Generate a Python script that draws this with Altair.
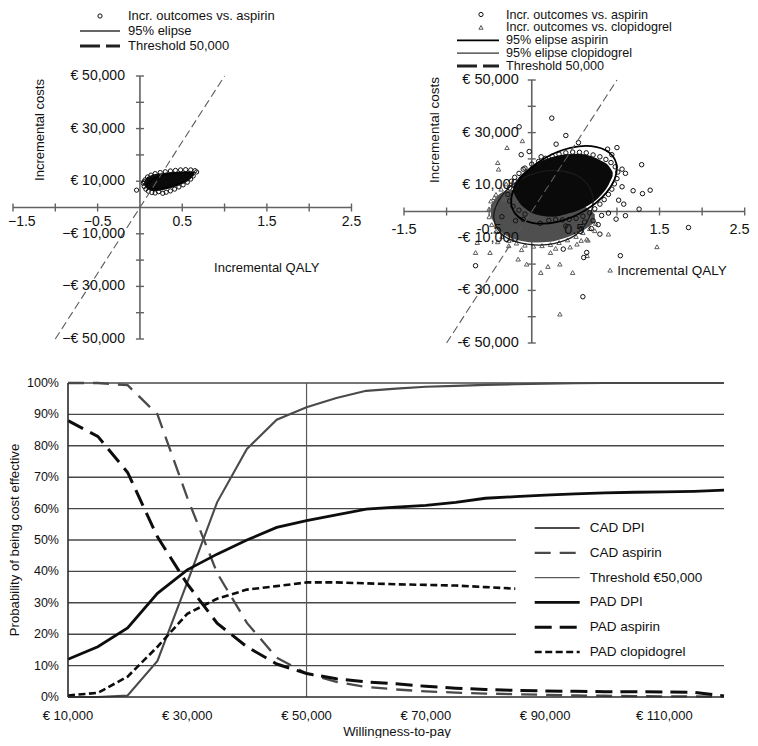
import altair as alt
import pandas as pd

FONT = "Liberation Sans"

# ============================ DATA ============================
# --- bottom panel: probability of being cost effective (%) ---
wtp = [10000, 15000, 20000, 25000, 30000, 35000, 40000, 45000, 50000, 55000, 60000,
       65000, 70000, 75000, 80000, 85000, 90000, 95000, 100000, 105000, 110000,
       115000, 120000]
cad_dpi = [0, 0, 0.5, 11.5, 36.5, 62, 79, 88.3, 92.3, 95.2, 97.5,
           98.2, 98.8, 99.1, 99.4, 99.6, 99.8, 99.9, 100, 100, 100, 100, 100]
cad_aspirin = [100, 100, 99.3, 90, 63.5, 39.5, 23.6, 12.5, 7.5, 4.8, 3.2,
               2.4, 1.8, 1.4, 1.1, 0.9, 0.7, 0.5, 0.4, 0.3, 0.2, 0.2, 0.1]
pad_dpi = [12, 16, 22, 33, 40.5, 45.5, 50, 54, 56.2, 58, 59.8,
           60.5, 61, 62, 63.3, 63.8, 64.3, 64.7, 65, 65.2, 65.3, 65.5, 65.9]
pad_aspirin = [88, 83, 71.5, 51, 36, 23.5, 16, 10.5, 7.5, 5.8, 4.8,
               4.2, 3.4, 2.8, 2.4, 2.1, 1.9, 1.8, 1.7, 1.7, 1.6, 1.5, 0.3]
pad_clopidogrel = [0.5, 1.3, 6.5, 16, 26.5, 31.3, 34.2, 35.3, 36.5, 36.5, 36.2,
                   35.9, 35.7, 35.5, 35.0, 34.5]
threshold_wtp = 50000
prob_ticks = [0, 10, 20, 30, 40, 50, 60, 70, 80, 90, 100]
prob_labels = ["0%", "10%", "20%", "30%", "40%", "50%", "60%", "70%", "80%", "90%", "100%"]
wtp_ticks = [10000, 30000, 50000, 70000, 90000, 110000]
wtp_labels = ["€ 10,000", "€ 30,000", "€ 50,000", "€ 70,000", "€ 90,000", "€ 110,000"]
series_names = ["CAD DPI", "CAD aspirin", "Threshold €50,000", "PAD DPI", "PAD aspirin", "PAD clopidogrel"]

# --- scatter axes (QALY, cost in k€) ---
qaly_ticks = [-1.5, -1.0, -0.5, 0.5, 1.0, 1.5, 2.0, 2.5]
cost_ticks = [-50, -40, -30, -20, -10, 10, 20, 30, 40, 50]
qaly_label_vals = [-1.5, -0.5, 0.5, 1.5, 2.5]
cost_label_vals = [50, 30, 10, -10, -30, -50]
left_qaly_labels = ["−1.5", "−0.5", "0.5", "1.5", "2.5"]
left_cost_labels = ["€ 50,000", "€ 30,000", "€ 10,000", "−€ 10,000", "−€ 30,000", "−€ 50,000"]
right_qaly_labels = ["-1.5", "-0.5", "0.5", "1.5", "2.5"]
right_cost_labels = ["€ 50,000", "€ 30,000", "€ 10,000", "-€ 10,000", "-€ 30,000", "-€ 50,000"]
threshold_qaly = [-1.0, 1.0]
threshold_cost = [-50, 50]

# --- left scatter (CAD DPI vs aspirin) ---
L_core_q = [0.05, 0.08, 0.12, 0.2, 0.3, 0.4, 0.5, 0.58, 0.64]
L_core_lo = [8.5, 7.2, 6.5, 6.3, 6.8, 7.7, 8.9, 10.4, 12.3]
L_core_hi = [10.0, 11.4, 12.1, 12.8, 13.2, 13.5, 13.7, 13.8, 13.6]
L_ell_q = [0.08, 0.2, 0.35, 0.55, 0.62, 0.5, 0.3, 0.12]
L_ell_c = [8.5, 11.5, 12.8, 13.2, 12.5, 9.5, 7.5, 7.3]
L_pts_q = [0.06, 0.09, 0.13, 0.18, 0.24, 0.3, 0.36, 0.42, 0.48, 0.54, 0.6, 0.65, 0.67,
           0.05, 0.07, 0.1, 0.14, 0.18, 0.22, 0.27, 0.31, 0.36, 0.41, 0.46, 0.51, 0.56,
           0.6, 0.63, 0.04, 0.05, -0.04]
L_pts_c = [10.5, 11.6, 12.3, 12.9, 13.3, 13.6, 13.9, 14.1, 14.3, 14.4, 14.3, 14.0, 13.5,
           8.0, 7.0, 6.2, 5.7, 5.5, 6.0, 5.4, 5.8, 6.3, 7.0, 7.8, 8.6, 9.6,
           10.8, 12.0, 9.2, 9.8, 6.6]

# --- right scatter (PAD DPI vs aspirin / clopidogrel) ---
R_gray_q = [-0.48, -0.4, -0.28, -0.12, 0.05, 0.22, 0.38, 0.52, 0.64, 0.74]
R_gray_lo = [-2.0, -6.5, -9.5, -11.2, -11.8, -11.5, -10.2, -8.5, -6.5, -4.0]
R_gray_hi = [2.5, 6.0, 8.0, 8.5, 8.0, 6.0, 4.0, 3.0, 1.5, -1.0]
R_blk_q = [-0.22, -0.15, -0.05, 0.1, 0.25, 0.4, 0.55, 0.7, 0.82, 0.9, 0.95]
R_blk_lo = [7.5, 3.5, 0.5, -1.5, -2.0, -1.0, 0.5, 3.0, 6.5, 10.0, 13.5]
R_blk_hi = [9.5, 13.0, 16.0, 19.0, 20.8, 21.8, 22.0, 21.0, 19.2, 17.5, 15.0]
R_ell_asp_q = [0.994, 0.950, 0.752, 0.454, 0.136, -0.117, -0.238, -0.194, 0.004, 0.302, 0.620, 0.874]
R_ell_asp_c = [14.7, 21.1, 24.6, 24.2, 20.0, 13.2, 5.6, -0.8, -4.3, -3.9, 0.3, 7.1]
R_ell_clo_q = [-0.446, -0.367, -0.19, 0.063, 0.337, 0.57, 0.71, 0.69, 0.53, 0.26, -0.054, -0.33]
R_ell_clo_c = [-2.3, 5.3, 11.0, 14.8, 15.5, 12.9, 6.6, -1.0, -8.6, -12.2, -12.4, -9.2]
R_circ_q = [-0.26, -0.24, -0.2, -0.15, -0.08, 0.0, 0.08, 0.16, 0.24, 0.32, 0.4, 0.48, 0.56,
            0.64, 0.72, 0.8, 0.87, 0.93, 0.98, 1.01, 1.0, 0.97, 0.94, 0.9, 0.85, 0.8, 0.74,
            0.68, 0.6, 0.52, 0.44, 0.36, 0.28, 0.2, -0.28, -0.26, -0.22, -0.15, -0.08,
            0.62, 0.72, 0.82, 0.78, 0.58, 0.4, 0.1, -0.1, -0.35,
            0.235, -0.148, 0.40, 0.286, 0.548, -0.124, -0.03, 0.11, -0.10, 0.89, 1.0, 0.94,
            1.29, 1.06, 1.10, 1.06, 1.19, 1.39, 1.30, 1.02, 1.08, 1.26, 0.90, 0.99, 1.10,
            1.84, 1.04, 0.61, 0.645, 0.37, -0.66, 0.60, 0.80, 0.70, -0.19]
R_circ_c = [9.0, 11.5, 13.0, 14.5, 16.5, 18.0, 19.0, 20.2, 21.0, 21.8, 22.3, 22.6, 22.5,
            22.3, 21.5, 20.8, 19.8, 18.6, 17.0, 15.0, 12.5, 10.5, 8.5, 6.5, 4.5, 2.8, 1.0,
            -0.5, -1.8, -2.6, -3.0, -3.2, -3.1, -3.4, 6.5, 4.0, 2.0, 0.5, -1.0,
            -4.0, -3.5, -1.5, -5.0, -6.5, -5.5, -4.5, -3.0, -2.0,
            35.5, 32.2, 28.9, 25.6, 26.2, 21.6, 22.8, 20.8, 16.1, 23.7, 24.3, 21.6,
            17.8, 16.1, 14.5, 9.4, 7.9, 8.1, 6.8, 4.3, 2.8, 0.9, -0.6, -2.9, -1.6,
            -6.1, -16.8, -17.5, -15.6, -14.3, -20.6, -32.4, -8.6, -6.5, -3.5]
R_tri_q = [-0.5, -0.5, -0.47, -0.42, -0.35, -0.27, -0.18, -0.08, 0.02, 0.12, 0.22, 0.32,
           0.42, 0.52, 0.6, 0.68, 0.75, 0.7, -0.48, -0.42, -0.36, -0.3, -0.12, 0.28, 0.45,
           -0.4, 0.58,
           -0.29, -0.11, -0.40, -0.39, -0.44, -0.66, -0.49, -0.16, -0.06, 0.106, 0.19, 0.33,
           0.48, 0.33, 0.92, 1.47, 0.645, 0.90, 0.74, 0.22, -0.64, -0.27, 0.53, 0.66, -0.32,
           0.65, -0.43]
R_tri_c = [1.0, -2.0, -5.0, -7.5, -9.5, -11.0, -12.0, -12.8, -13.2, -13.0, -12.6, -11.8,
           -10.8, -9.5, -8.0, -6.5, -4.5, -2.5, 4.0, 6.5, 8.5, 10.5, -14.5, -14.0, -13.5,
           -11.5, -11.0,
           24.3, 26.9, 18.6, 16.1, 5.3, -15.6, -15.6, -18.1, -20.0, -23.2, -20.9, -20.0,
           -23.2, -39.0, -22.3, -13.4, -10.5, -8.6, -7.3, -15.6, -11.8, -13.0, -12.4, -10.9, 4.7,
           -16.8, 2.2]

# ============================ HELPERS ============================
one = alt.Data(values=[{"k": 0}])


def vtext(x, y, t, size=13, align="left", angle=0, baseline="middle", color="#111"):
    kw = dict(text=t, font=FONT, fontSize=size, align=align, baseline=baseline, color=color)
    if angle:
        kw["angle"] = angle
    return alt.Chart(one).mark_text(**kw).encode(x=alt.value(x), y=alt.value(y))


def vrule(x1, x2, y, color, width, dash=None):
    kw = dict(color=color, strokeWidth=width)
    if dash:
        kw["strokeDash"] = dash
    return alt.Chart(one).mark_rule(**kw).encode(x=alt.value(x1), x2=alt.value(x2), y=alt.value(y))


def vpoint(x, y, shape, color, size=18):
    return alt.Chart(one).mark_point(shape=shape, filled=False, color=color, size=size,
                                     strokeWidth=1, opacity=1).encode(x=alt.value(x), y=alt.value(y))


def scatter_base(sx, sy, qlabels, clabels, font_size, xdy, ydx, first_left, last_right):
    X = lambda f: alt.X(f, type="quantitative", scale=sx, axis=None)
    Y = lambda f: alt.Y(f, type="quantitative", scale=sy, axis=None)
    ax_col = "#626262"
    xaxis = alt.Chart(pd.DataFrame({"a": [-1.5], "b": [2.5], "z": [0]})).mark_rule(
        color=ax_col, strokeWidth=1.6).encode(x=X("a"), x2="b:Q", y=Y("z"))
    yaxis = alt.Chart(pd.DataFrame({"a": [-50], "b": [50], "z": [0]})).mark_rule(
        color=ax_col, strokeWidth=1.6).encode(y=Y("a"), y2="b:Q", x=X("z"))
    xt = alt.Chart(pd.DataFrame({"q": qaly_ticks, "z": 0})).mark_tick(
        orient="vertical", size=8, thickness=1.4, color=ax_col, opacity=1).encode(x=X("q"), y=Y("z"))
    yt = alt.Chart(pd.DataFrame({"c": cost_ticks, "z": 0})).mark_tick(
        orient="horizontal", size=8, thickness=1.4, color=ax_col, opacity=1).encode(y=Y("c"), x=X("z"))
    xl = pd.DataFrame({"q": qaly_label_vals, "t": qlabels, "z": 0})
    lo = 1 if first_left else 0
    hi = len(xl) - 1 if last_right else len(xl)
    mid = xl.iloc[lo:hi]
    layers_lab = [alt.Chart(mid).mark_text(font=FONT, fontSize=font_size, align="center",
                                           baseline="middle", dy=xdy, color="#111").encode(
        x=X("q"), y=Y("z"), text="t:N")]
    if first_left:
        layers_lab.append(alt.Chart(xl.iloc[:1]).mark_text(
            font=FONT, fontSize=font_size, align="left", baseline="middle", dy=xdy, dx=-5,
            color="#111").encode(x=X("q"), y=Y("z"), text="t:N"))
    if last_right:
        layers_lab.append(alt.Chart(xl.iloc[-1:]).mark_text(
            font=FONT, fontSize=font_size, align="right", baseline="middle", dy=xdy, dx=5,
            color="#111").encode(x=X("q"), y=Y("z"), text="t:N"))
    yl = alt.Chart(pd.DataFrame({"c": cost_label_vals, "t": clabels, "z": 0})).mark_text(
        font=FONT, fontSize=font_size, align="right", baseline="middle", dx=ydx, color="#111").encode(
        x=X("z"), y=Y("c"), text="t:N")
    thr = alt.Chart(pd.DataFrame({"q": threshold_qaly, "c": threshold_cost})).mark_line(
        color="#5a5a5a", strokeWidth=1.1, strokeDash=[8, 4]).encode(x=X("q"), y=Y("c"))
    return X, Y, [xaxis, yaxis, xt, yt], thr, layers_lab + [yl]


def core(X, Y, q, lo, hi, color):
    return alt.Chart(pd.DataFrame({"q": q, "lo": lo, "hi": hi})).mark_area(
        color=color, interpolate="monotone", opacity=1).encode(x=X("q"), y=Y("lo"), y2="hi:Q")


def ellipse(X, Y, q, c, width, color):
    return alt.Chart(pd.DataFrame({"q": q, "c": c, "i": list(range(len(q)))})).mark_line(
        interpolate="cardinal-closed", color=color, strokeWidth=width).encode(
        x=X("q"), y=Y("c"), order="i:Q")


def points(X, Y, q, c, shape, color, size):
    return alt.Chart(pd.DataFrame({"q": q, "c": c})).mark_point(
        shape=shape, filled=False, color=color, size=size, strokeWidth=1, opacity=1).encode(
        x=X("q"), y=Y("c"))


# ============================ LEFT SCATTER ============================
sxL = alt.Scale(domain=[-1.5, 2.5], range=[5, 343.5], nice=False, zero=False)
syL = alt.Scale(domain=[-50, 50], range=[331, 68], nice=False, zero=False)
XL, YL, axL, thrL, labL = scatter_base(sxL, syL, left_qaly_labels, left_cost_labels, 14, 14, -15, True, False)
left = alt.layer(
    *axL,
    core(XL, YL, L_core_q, L_core_lo, L_core_hi, "#0a0a0a"),
    ellipse(XL, YL, L_ell_q, L_ell_c, 1.2, "#000"),
    points(XL, YL, L_pts_q, L_pts_c, "circle", "#111", 18),
    thrL,
    *labL,
    vtext(258.7, 260, "Incremental QALY", size=13, align="center"),
    vtext(32, 122, "Incremental costs", size=13, align="center", angle=270),
    # legend
    vpoint(92, 8, "circle", "#111"),
    vtext(120, 8, "Incr. outcomes vs. aspirin", size=13),
    vrule(72, 112, 23, "#333", 1.3),
    vtext(120, 23, "95% elipse", size=13),
    vrule(72, 112, 38, "#222", 3, [20, 6]),
    vtext(120, 38, "Threshold 50,000", size=13),
)

# ============================ RIGHT SCATTER ============================
sxR = alt.Scale(domain=[-1.5, 2.5], range=[396, 736.7], nice=False, zero=False)
syR = alt.Scale(domain=[-50, 50], range=[335, 72], nice=False, zero=False)
XR, YR, axR, thrR, labR = scatter_base(sxR, syR, right_qaly_labels, right_cost_labels, 14.5, 18.5, -13, False, True)
rows_r = [6.5, 19.4, 32.3, 45.2, 58.1]
LEG_R = 12.6
right = alt.layer(
    *axR,
    core(XR, YR, R_gray_q, R_gray_lo, R_gray_hi, "#4f4f4f"),
    points(XR, YR, R_tri_q, R_tri_c, "triangle-up", "#5e5e5e", 20),
    core(XR, YR, R_blk_q, R_blk_lo, R_blk_hi, "#0a0a0a"),
    points(XR, YR, R_circ_q, R_circ_c, "circle", "#111", 20),
    ellipse(XR, YR, R_ell_clo_q, R_ell_clo_c, 1.3, "#1a1a1a"),
    ellipse(XR, YR, R_ell_asp_q, R_ell_asp_c, 1.8, "#000"),
    thrR,
    *labR,
    vtext(664, 262.7, "Incremental QALY", size=13.5, align="center"),
    vtext(426.7, 122, "Incremental costs", size=13.5, align="center", angle=270),
    # legend
    vpoint(473, rows_r[0], "circle", "#111"),
    vtext(498, rows_r[0], "Incr. outcomes vs. aspirin", size=LEG_R),
    vpoint(473, rows_r[1], "triangle-up", "#555"),
    vtext(498, rows_r[1], "Incr. outcomes vs. clopidogrel", size=LEG_R),
    vrule(449, 491, rows_r[2], "#000", 1.8),
    vtext(498, rows_r[2], "95% elipse aspirin", size=LEG_R),
    vrule(449, 491, rows_r[3], "#333", 1.2),
    vtext(498, rows_r[3], "95% elipse clopidogrel", size=LEG_R),
    vrule(449, 491, rows_r[4], "#222", 3, [20, 6]),
    vtext(498, rows_r[4], "Threshold 50,000", size=LEG_R),
)

# ============================ BOTTOM PANEL ============================
sxB = alt.Scale(domain=[10000, 120000], range=[60, 716], nice=False, zero=False)
syB = alt.Scale(domain=[0, 100], range=[689, 375], nice=False, zero=False)
XB = lambda f: alt.X(f, type="quantitative", scale=sxB, axis=None)
YB = lambda f: alt.Y(f, type="quantitative", scale=syB, axis=None)

styles = {
    "CAD DPI": dict(color="#4a4a4a", strokeWidth=2.1),
    "CAD aspirin": dict(color="#4a4a4a", strokeWidth=2.3, strokeDash=[16, 9]),
    "Threshold €50,000": dict(color="#5a5a5a", strokeWidth=1.2),
    "PAD DPI": dict(color="#0d0d0d", strokeWidth=2.8),
    "PAD aspirin": dict(color="#0d0d0d", strokeWidth=3.0, strokeDash=[17, 8]),
    "PAD clopidogrel": dict(color="#0d0d0d", strokeWidth=2.6, strokeDash=[7, 3.5]),
}
series_values = {
    "CAD DPI": cad_dpi,
    "CAD aspirin": cad_aspirin,
    "PAD DPI": pad_dpi,
    "PAD aspirin": pad_aspirin,
    "PAD clopidogrel": pad_clopidogrel,
}

grid = alt.Chart(pd.DataFrame({"p": prob_ticks[1:], "x0": wtp[0], "x1": wtp[-1]})).mark_rule(
    color="#484848", strokeWidth=1.4).encode(y=YB("p"), x=XB("x0"), x2="x1:Q")
base_x = alt.Chart(pd.DataFrame({"p": [0], "x0": [wtp[0]], "x1": [wtp[-1]]})).mark_rule(
    color="#2a2a2a", strokeWidth=1.6).encode(y=YB("p"), x=XB("x0"), x2="x1:Q")
base_y = alt.Chart(pd.DataFrame({"w": [wtp[0]], "y0": [0], "y1": [100]})).mark_rule(
    color="#2a2a2a", strokeWidth=1.6).encode(x=XB("w"), y=YB("y0"), y2="y1:Q")
thr_line = alt.Chart(pd.DataFrame({"w": [threshold_wtp], "y0": [0], "y1": [100]})).mark_rule(
    **styles["Threshold €50,000"]).encode(x=XB("w"), y=YB("y0"), y2="y1:Q")

line_layers = []
for name in ["CAD DPI", "CAD aspirin", "PAD DPI", "PAD aspirin", "PAD clopidogrel"]:
    vals = series_values[name]
    df = pd.DataFrame({"w": wtp[:len(vals)], "p": vals})
    line_layers.append(alt.Chart(df).mark_line(**styles[name]).encode(x=XB("w"), y=YB("p")))

ylab = alt.Chart(pd.DataFrame({"p": prob_ticks, "t": prob_labels, "x0": wtp[0]})).mark_text(
    font=FONT, fontSize=12.5, align="right", baseline="middle", dx=-9, color="#111").encode(
    x=XB("x0"), y=YB("p"), text="t:N")
xlab = alt.Chart(pd.DataFrame({"w": wtp_ticks, "t": wtp_labels, "z": 0})).mark_text(
    font=FONT, fontSize=13, align="center", baseline="middle", dy=19, color="#111").encode(
    x=XB("w"), y=YB("z"), text="t:N")

legend_box = alt.Chart(one).mark_rect(color="white").encode(
    x=alt.value(508), x2=alt.value(716), y=alt.value(505), y2=alt.value(656))
legend_items = []
for i, name in enumerate(series_names):
    yy = 520 + i * 24.8
    st = styles[name]
    legend_items.append(vrule(526.7, 571.7, yy, st["color"], st["strokeWidth"], st.get("strokeDash")))
    legend_items.append(vtext(581.7, yy, name, size=13.5))

bottom = alt.layer(
    grid, thr_line, *line_layers, base_x, base_y, ylab, xlab,
    legend_box, *legend_items,
    vtext(389, 728, "Willingness-to-pay", size=13.2, align="center", baseline="alphabetic"),
    vtext(7, 532, "Probability of being cost effective", size=13.2, align="center", angle=270),
)

chart = alt.layer(left, right, bottom).resolve_scale(
    x="independent", y="independent"
).properties(
    width=742, height=730, padding=0,
    autosize=alt.AutoSizeParams(type="none"),
).configure_view(stroke="transparent")

chart.save("out.html", embed_options={"renderer": "svg", "actions": False})
